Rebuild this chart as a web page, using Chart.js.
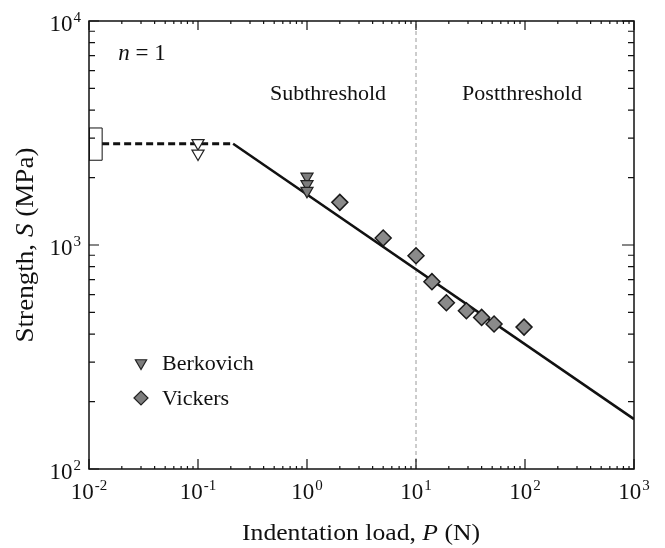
<!DOCTYPE html>
<html>
<head>
<meta charset="utf-8">
<script src="https://cdn.jsdelivr.net/npm/chart.js@4/dist/chart.umd.min.js"></script>
<style>
  body { margin: 0; background: #fff; }
  canvas { display: block; }
</style>
</head>
<body>
<canvas id="strengthChart" width="665" height="548"></canvas>
<script>
// data (load in N, strength in MPa)
const berkovichOpenLoad = [0.1, 0.1];
const berkovichOpenStrength = [2850, 2560];
const berkovichLoad = [1, 1, 1];
const berkovichStrength = [2020, 1870, 1745];
const vickersLoad = [2, 5, 10, 14, 19, 29, 40, 52, 98];
const vickersStrength = [1550, 1075, 895, 686, 552, 509, 475, 444, 430];
const plateauLoad = [0.0132, 0.21];
const plateauStrength = [2830, 2830];
const fitLoad = [0.21, 1000];
const fitStrength = [2830, 167];
const boxLoad = [0.01, 0.0132, 0.0132, 0.01, 0.01];
const boxStrength = [2390, 2390, 3330, 3330, 2390];
const thresholdLoad = [10, 10];
const thresholdStrength = [100, 10000];
const xTickExponents = [-2, -1, 0, 1, 2, 3];
const yTickExponents = [2, 3, 4];

const serif = '"Liberation Serif", "Times New Roman", serif';

function toPoints(xs, ys) {
    return xs.map((x, i) => ({ x: x, y: ys[i] }));
}

// draw "10" with a raised exponent
function drawPower(ctx, exp, x, y, align) {
    ctx.font = '23px ' + serif;
    const baseW = ctx.measureText('10').width;
    ctx.font = '15px ' + serif;
    const expW = ctx.measureText(String(exp)).width;
    const total = baseW + expW + 1;
    let left = x;
    if (align === 'center') left = x - total / 2;
    if (align === 'right') left = x - total;
    ctx.textAlign = 'left';
    ctx.textBaseline = 'alphabetic';
    ctx.font = '23px ' + serif;
    ctx.fillText('10', left, y);
    ctx.font = '15px ' + serif;
    ctx.fillText(String(exp), left + baseW + 1, y - 9);
}

// draw mixed upright/italic pieces as one line
function drawPieces(ctx, pieces, size, cx, y, targetWidth) {
    let w = 0;
    pieces.forEach(p => {
        ctx.font = (p[1] ? 'italic ' : '') + size + 'px ' + serif;
        w += ctx.measureText(p[0]).width;
    });
    const sx = targetWidth ? targetWidth / w : 1;
    ctx.save();
    ctx.translate(cx, y);
    ctx.scale(sx, 1);
    let pos = -w / 2;
    ctx.textAlign = 'left';
    ctx.textBaseline = 'alphabetic';
    pieces.forEach(p => {
        ctx.font = (p[1] ? 'italic ' : '') + size + 'px ' + serif;
        ctx.fillText(p[0], pos, 0);
        pos += ctx.measureText(p[0]).width;
    });
    ctx.restore();
}

const frame = {
    id: 'frame',
    afterDatasetsDraw(chart) {
        const ctx = chart.ctx;
        const a = chart.chartArea;
        const xs = chart.scales.x;
        const ys = chart.scales.y;
        ctx.save();
        ctx.strokeStyle = '#111';
        ctx.fillStyle = '#111';
        ctx.lineWidth = 1.5;
        ctx.strokeRect(a.left, a.top, a.right - a.left, a.bottom - a.top);

        ctx.lineWidth = 1.2;
        ctx.beginPath();
        // x ticks, inside on top and bottom
        xTickExponents.forEach((e, i) => {
            const px = xs.getPixelForValue(Math.pow(10, e));
            ctx.moveTo(px, a.bottom); ctx.lineTo(px, a.bottom - 10);
            ctx.moveTo(px, a.top); ctx.lineTo(px, a.top + 9);
            if (i < xTickExponents.length - 1) {
                for (let m = 2; m < 10; m++) {
                    const mx = xs.getPixelForValue(m * Math.pow(10, e));
                    ctx.moveTo(mx, a.bottom); ctx.lineTo(mx, a.bottom - 3);
                    ctx.moveTo(mx, a.top); ctx.lineTo(mx, a.top + 3);
                }
            }
        });
        // y ticks, inside on left and right
        yTickExponents.forEach((e, i) => {
            const py = ys.getPixelForValue(Math.pow(10, e));
            ctx.moveTo(a.left, py); ctx.lineTo(a.left + 10, py);
            ctx.moveTo(a.right, py); ctx.lineTo(a.right - 12, py);
            if (i < yTickExponents.length - 1) {
                for (let m = 2; m < 10; m++) {
                    const my = ys.getPixelForValue(m * Math.pow(10, e));
                    ctx.moveTo(a.left, my); ctx.lineTo(a.left + 6, my);
                    ctx.moveTo(a.right, my); ctx.lineTo(a.right - 6, my);
                }
            }
        });
        ctx.stroke();

        // tick labels
        xTickExponents.forEach(e => {
            drawPower(ctx, e, xs.getPixelForValue(Math.pow(10, e)), a.bottom + 30, 'center');
        });
        yTickExponents.forEach(e => {
            drawPower(ctx, e, a.left - 8, ys.getPixelForValue(Math.pow(10, e)) + 10, 'right');
        });

        // axis titles
        drawPieces(ctx, [['Indentation load, ', false], ['P', true], [' (N)', false]], 24, 361, 540, 238);
        ctx.save();
        ctx.translate(33, 245);
        ctx.rotate(-Math.PI / 2);
        drawPieces(ctx, [['Strength, ', false], ['S', true], [' (MPa)', false]], 25, 0, 0, 195);
        ctx.restore();

        // annotations
        drawPieces(ctx, [['n', true], [' = 1', false]], 23, 142, 60);
        drawPieces(ctx, [['Subthreshold', false]], 22, 328, 100);
        drawPieces(ctx, [['Postthreshold', false]], 22, 522, 100);

        // legend
        ctx.lineWidth = 1.2;
        ctx.fillStyle = '#7d7d7d';
        ctx.strokeStyle = '#222';
        Chart.helpers.drawPoint(ctx, { pointStyle: 'triangle', rotation: 180, radius: 6.5, borderWidth: 1.2 }, 141, 363);
        Chart.helpers.drawPoint(ctx, { pointStyle: 'rectRot', rotation: 0, radius: 7, borderWidth: 1.2 }, 141, 398);
        ctx.fillStyle = '#111';
        ctx.font = '22px ' + serif;
        ctx.textAlign = 'left';
        ctx.textBaseline = 'alphabetic';
        ctx.fillText('Berkovich', 162, 370);
        ctx.fillText('Vickers', 162, 405);
        ctx.restore();
    }
};

new Chart(document.getElementById('strengthChart'), {
    type: 'scatter',
    data: {
        datasets: [
            {
                label: 'Berkovich (open)',
                data: toPoints(berkovichOpenLoad, berkovichOpenStrength),
                pointStyle: 'triangle',
                rotation: 180,
                radius: 7,
                backgroundColor: '#fff',
                borderColor: '#222',
                borderWidth: 1.2,
                order: 0
            },
            {
                label: 'Berkovich',
                data: toPoints(berkovichLoad, berkovichStrength),
                pointStyle: 'triangle',
                rotation: 180,
                radius: 7,
                backgroundColor: '#7d7d7d',
                borderColor: '#222',
                borderWidth: 1.2,
                order: 0
            },
            {
                label: 'Vickers',
                data: toPoints(vickersLoad, vickersStrength),
                pointStyle: 'rectRot',
                radius: 8,
                backgroundColor: '#8a8a8a',
                borderColor: '#1a1a1a',
                borderWidth: 1.5,
                order: 0
            },
            {
                label: 'plateau',
                type: 'line',
                data: toPoints(plateauLoad, plateauStrength),
                borderColor: '#111',
                borderWidth: 3,
                borderDash: [7, 4],
                pointRadius: 0,
                fill: false,
                order: 2
            },
            {
                label: 'fit',
                type: 'line',
                data: toPoints(fitLoad, fitStrength),
                borderColor: '#111',
                borderWidth: 2.5,
                pointRadius: 0,
                fill: false,
                order: 2
            },
            {
                label: 'box',
                type: 'line',
                data: toPoints(boxLoad, boxStrength),
                borderColor: '#111',
                borderWidth: 1,
                pointRadius: 0,
                fill: false,
                tension: 0,
                order: 2
            },
            {
                label: 'threshold',
                type: 'line',
                data: toPoints(thresholdLoad, thresholdStrength),
                borderColor: '#9a9a9a',
                borderWidth: 1,
                borderDash: [4, 3],
                pointRadius: 0,
                fill: false,
                order: 3
            }
        ]
    },
    options: {
        responsive: false,
        animation: false,
        layout: { padding: { left: 89, top: 21, right: 31, bottom: 79 } },
        plugins: {
            legend: { display: false },
            tooltip: { enabled: false }
        },
        scales: {
            x: { type: 'logarithmic', min: 0.01, max: 1000, display: false },
            y: { type: 'logarithmic', min: 100, max: 10000, display: false }
        }
    },
    plugins: [frame]
});
</script>
</body>
</html>
